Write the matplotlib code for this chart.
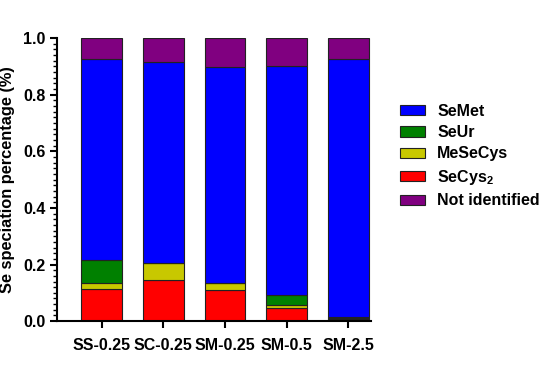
import matplotlib
matplotlib.use("Agg")
import matplotlib.pyplot as plt
import numpy as np

samples = ["SS-0.25", "SC-0.25", "SM-0.25", "SM-0.5", "SM-2.5"]
secys2 = [0.114, 0.146, 0.110, 0.048, 0.007]
mesecys = [0.019, 0.061, 0.023, 0.009, 0.003]
seur = [0.083, 0.0, 0.0, 0.034, 0.006]
semet = [0.712, 0.709, 0.765, 0.810, 0.909]
not_identified = [0.072, 0.084, 0.102, 0.099, 0.075]

plt.rcParams["font.family"] = ["Liberation Sans", "DejaVu Sans"]
plt.rcParams["font.weight"] = "bold"
plt.rcParams["mathtext.fontset"] = "custom"
plt.rcParams["mathtext.rm"] = "Liberation Sans:bold"
plt.rcParams["mathtext.it"] = "Liberation Sans:bold"
plt.rcParams["mathtext.bf"] = "Liberation Sans:bold"

fig = plt.figure(figsize=(5.5, 3.67), dpi=100)
ax = fig.add_axes([0.104, 0.125, 0.57, 0.771])

x = np.arange(len(samples))
w = 0.66
bottom = np.zeros(len(samples))
series = [
    (secys2, "#FF0000", "SeCys$_2$"),
    (mesecys, "#C8C800", "MeSeCys"),
    (seur, "#008000", "SeUr"),
    (semet, "#0000FF", "SeMet"),
    (not_identified, "#800080", "Not identified"),
]
handles = {}
for vals, col, lab in series:
    b = ax.bar(x, vals, w, bottom=bottom, color=col, edgecolor="#222222",
               linewidth=0.8, label=lab)
    handles[lab] = b
    bottom += np.array(vals)

ax.set_xlim(-0.72, 4.36)
ax.set_ylim(0, 1.0)
ax.set_yticks(np.arange(0, 1.01, 0.2))
ax.set_yticks(np.arange(0, 1.001, 0.02), minor=True)
ax.set_xticks(x)
ax.set_xticklabels(samples, fontsize=11.5, fontweight="bold")
ax.set_yticklabels([f"{v:.1f}" for v in np.arange(0, 1.01, 0.2)],
                   fontsize=11.5, fontweight="bold")
ax.set_ylabel("Se speciation percentage (%)", fontsize=11.8, fontweight="bold",
              labelpad=6)
for s in ["top", "right"]:
    ax.spines[s].set_visible(False)
for s in ["left", "bottom"]:
    ax.spines[s].set_linewidth(1.5)
ax.tick_params(axis="both", which="major", direction="out", length=5, width=1.5)
ax.tick_params(axis="x", which="major", pad=7)
ax.tick_params(axis="y", which="minor", direction="out", length=3, width=1.0)

order = ["SeMet", "SeUr", "MeSeCys", "SeCys$_2$", "Not identified"]
fig.legend([handles[k] for k in order], order, loc="center left",
           bbox_to_anchor=(0.702, 0.575), frameon=False, fontsize=11.5,
           handlelength=1.55, handleheight=0.6, handletextpad=0.75,
           labelspacing=0.4)

fig.savefig("out.png", dpi=100)
